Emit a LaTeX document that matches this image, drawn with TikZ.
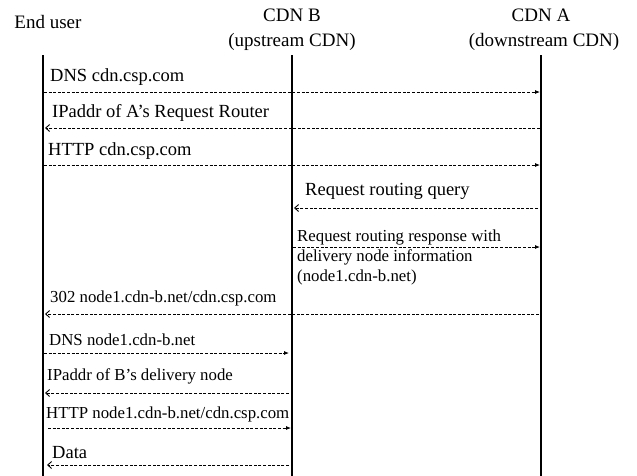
\documentclass[tikz,border=0pt]{standalone}
\usepackage{fontspec}
\setmainfont{Liberation Serif}
\usetikzlibrary{arrows.meta}
\tikzset{
  head/.style={font=\fontsize{19}{22}\selectfont, inner sep=0pt},
  lifeline/.style={line width=1.5pt},
  msg/.style={line width=0.8pt, dash pattern=on 3pt off 1.6pt},
  toright/.style={msg, -{Latex[length=5pt,width=4pt]}},
  toleft/.style={msg, -{Straight Barb[length=4pt,width=7pt,line width=0.9pt]}},
  lbl/.style={anchor=west, inner sep=0pt, font=\fontsize{18.5}{21}\selectfont},
  lbls/.style={anchor=west, inner sep=0pt, font=\fontsize{16.8}{20}\selectfont},
}
\begin{document}
\begin{tikzpicture}[x=1pt,y=-1pt]
\useasboundingbox (0,0) rectangle (637,475);
% headers
\node[head] (hu) at (48,22) {End user};
\node[head] (hb1) at (292,15) {CDN B};
\node[head] (hb2) at (292,42) {(upstream CDN)};
\node[head] (ha1) at (541,15) {CDN A};
\node[head] (ha2) at (544,42) {(downstream CDN)};
% lifelines
\coordinate (ut) at (43,55);  \coordinate (ub) at (43,476);
\coordinate (bt) at (292,55); \coordinate (bb) at (292,476);
\coordinate (at) at (541,55); \coordinate (ab) at (541,476);
\draw[lifeline] (ut) -- (ub);
\draw[lifeline] (bt) -- (bb);
\draw[lifeline] (at) -- (ab);
% message end points
\coordinate (u1) at (44,92);  \coordinate (a1) at (540,92);
\coordinate (a2) at (540,128); \coordinate (u2) at (45,128);
\coordinate (u3) at (44,165);  \coordinate (a3) at (540,165);
\coordinate (a4) at (538,208); \coordinate (b4) at (294,208);
\coordinate (b5) at (293,247); \coordinate (a5) at (540,247);
\coordinate (a6) at (539,314); \coordinate (u6) at (45,314);
\coordinate (u7) at (44,353);  \coordinate (b7) at (289,353);
\coordinate (b8) at (289,393); \coordinate (u8) at (45,393);
\coordinate (u9) at (48,428);  \coordinate (b9) at (291,428);
\coordinate (b10) at (289,465); \coordinate (u10) at (47,465);
% messages
\draw[toright] (u1) -- (a1);
\node[lbl] (l1) at (50,77) {DNS cdn.csp.com};
\draw[toleft] (a2) -- (u2);
\node[lbl] (l2) at (52,113) {IPaddr of A’s Request Router};
\draw[toright] (u3) -- (a3);
\node[lbl] (l3) at (48,151) {HTTP cdn.csp.com};
\draw[toleft] (a4) -- (b4);
\node[lbl] (l4) at (305,191) {Request routing query};
\draw[toright] (b5) -- (a5);
\node[lbls] (l5a) at (297,237) {Request routing response with};
\node[lbls] (l5b) at (297,257) {delivery node information};
\node[lbls] (l5c) at (297,277) {(node1.cdn-b.net)};
\draw[toleft] (a6) -- (u6);
\node[lbls] (l6) at (50,298) {302 node1.cdn-b.net/cdn.csp.com};
\draw[toright] (u7) -- (b7);
\node[lbls] (l7) at (49,340) {DNS node1.cdn-b.net};
\draw[toleft] (b8) -- (u8);
\node[lbls] (l8) at (47,376) {IPaddr of B’s delivery node};
\draw[toright] (u9) -- (b9);
\node[lbls] (l9) at (46,414) {HTTP node1.cdn-b.net/cdn.csp.com};
\draw[toleft] (b10) -- (u10);
\node[lbl] (l10) at (52,453) {Data};
\end{tikzpicture}
\end{document}
